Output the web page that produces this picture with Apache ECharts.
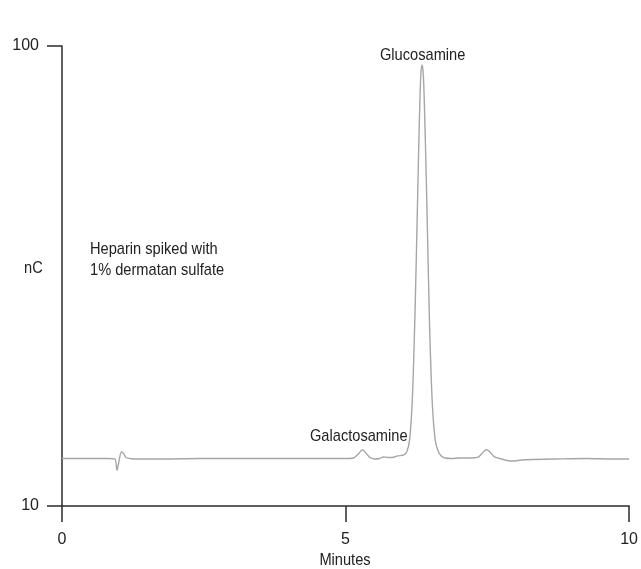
<!DOCTYPE html>
<html>
<head>
<meta charset="utf-8">
<style>
  html, body { margin: 0; padding: 0; background: #fff; }
  #chart { width: 641px; height: 569px; }
</style>
<script src="https://cdn.jsdelivr.net/npm/echarts@6/dist/echarts.min.js"></script>
</head>
<body>
<div id="chart"></div>
<script>
// Chromatogram trace: retention time (min) and detector response (nC)
const times = [
  0.00, 0.40, 0.80, 0.93, 0.97, 1.00, 1.05, 1.09, 1.13, 1.20, 1.30,
  1.80, 2.40, 3.00, 3.60, 4.20, 4.70, 5.00, 5.14, 5.22, 5.30, 5.37, 5.44,
  5.52, 5.60, 5.67, 5.74, 5.82, 5.92, 6.03, 6.08, 6.13, 6.18, 6.23, 6.28,
  6.31, 6.33, 6.35, 6.37, 6.39, 6.43, 6.48, 6.53, 6.58, 6.63, 6.68, 6.75,
  6.88, 7.00, 7.20, 7.33, 7.40, 7.45, 7.49, 7.54, 7.60, 7.65, 7.75, 7.85,
  7.95, 8.10, 8.30, 8.70, 9.26, 9.70, 10.00
];
const response = [
  19.3, 19.3, 19.3, 19.2, 17.0, 18.5, 20.6, 20.2, 19.5, 19.3, 19.2,
  19.2, 19.3, 19.3, 19.3, 19.3, 19.3, 19.3, 19.4, 20.1, 21.0, 20.2, 19.4,
  19.2, 19.3, 19.6, 19.5, 19.5, 19.8, 20.0, 20.6, 23.0, 31.5, 50.0, 75.0,
  89.0, 94.8, 96.3, 94.6, 88.7, 71.0, 46.0, 30.0, 23.0, 20.8, 19.9, 19.4,
  19.3, 19.4, 19.4, 19.5, 20.2, 20.8, 21.0, 20.6, 19.9, 19.5, 19.2, 18.9,
  18.8, 19.0, 19.1, 19.2, 19.3, 19.2, 19.2
];

// Axis ticks
const xTicks = [0, 5, 10];
const yTicks = [10, 100];

// Annotation texts
const yTitle = 'nC';
const xTitle = 'Minutes';
const sampleNote = 'Heparin spiked with\n1% dermatan sulfate';
const peakNames = ['Glucosamine', 'Galactosamine'];

const font = '"Liberation Sans", Arial, sans-serif';
const textColor = '#222';
const axisColor = '#2b2b2b';
const narrow = 0.86;   // horizontal squeeze for a condensed look

const trace = times.map((t, i) => [t, response[i]]);

function label(text, x, y, align, extra) {
  return Object.assign({
    type: 'text', x: x, y: y, scaleX: narrow, silent: true,
    style: {
      text: text, font: '17px ' + font, fill: textColor,
      align: align, verticalAlign: 'middle'
    }
  }, extra || {});
}

const chart = echarts.init(document.getElementById('chart'), null, { renderer: 'canvas' });

chart.setOption({
  animation: false,
  backgroundColor: '#ffffff',
  grid: { left: 62, right: 10, top: 46, bottom: 63, containLabel: false },
  xAxis: {
    type: 'value',
    min: xTicks[0],
    max: xTicks[xTicks.length - 1],
    interval: 5,
    axisLine: { show: true, onZero: false, lineStyle: { color: axisColor, width: 1.5 } },
    axisTick: { show: true, length: 16, lineStyle: { color: axisColor, width: 1.5 } },
    axisLabel: {
      fontFamily: font, fontSize: 16, color: textColor, margin: 26,
      formatter: v => (xTicks.includes(v) ? String(v) : '')
    },
    splitLine: { show: false }
  },
  yAxis: {
    type: 'value',
    min: yTicks[0],
    max: yTicks[1],
    interval: 90,
    axisLine: { show: true, onZero: false, lineStyle: { color: axisColor, width: 1.5 } },
    axisTick: { show: true, length: 15, lineStyle: { color: axisColor, width: 1.5 } },
    axisLabel: {
      fontFamily: font, fontSize: 16, color: textColor, margin: 23,
      formatter: v => (yTicks.includes(v) ? String(v) : '')
    },
    splitLine: { show: false }
  },
  series: [{
    type: 'line',
    data: trace,
    showSymbol: false,
    smooth: 0.3,
    lineStyle: { color: '#a6a6a6', width: 1.4 },
    silent: true
  }],
  graphic: [
    label(yTitle, 24, 268, 'left'),
    label(xTitle, 345, 560, 'center'),
    label(sampleNote, 90, 260, 'left', {
      style: { text: sampleNote, font: '17px ' + font, fill: textColor,
               align: 'left', verticalAlign: 'middle', lineHeight: 21 }
    }),
    label(peakNames[0], 380, 55, 'left'),
    label(peakNames[1], 310, 436, 'left')
  ]
});
</script>
</body>
</html>
